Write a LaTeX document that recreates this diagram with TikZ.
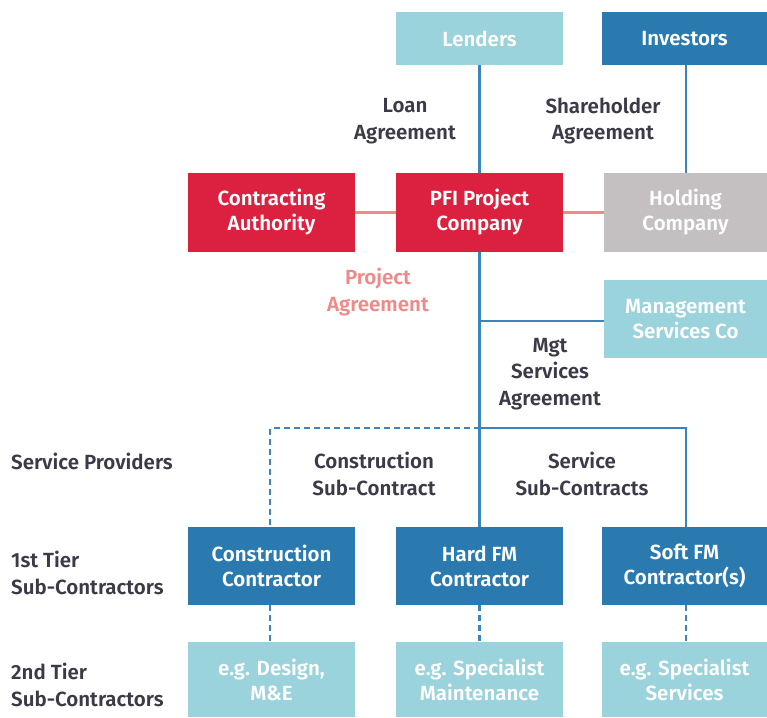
\documentclass[tikz,border=0pt]{standalone}
\usepackage{fontspec}
\setmainfont{Fira Sans}[UprightFont={* SemiBold}]
\definecolor{teal}{HTML}{9AD3DC}
\definecolor{navy}{HTML}{2A7AB0}
\definecolor{crimson}{HTML}{DC2040}
\definecolor{greybox}{HTML}{C4C0C2}
\definecolor{salmon}{HTML}{EE8A87}
\definecolor{ink}{HTML}{3B3B48}
\definecolor{wire}{HTML}{3A85BC}
\tikzset{
  box/.style={rectangle, inner sep=0pt, align=center, text=white,
    minimum width=167pt, minimum height=79pt,
    font=\fontsize{20.5}{25}\selectfont},
  lbl/.style={align=center, text=ink, inner sep=0pt,
    font=\fontsize{20.5}{26.5}\selectfont},
  side/.style={align=left, anchor=west, text=ink, inner sep=0pt,
    font=\fontsize{20.5}{26.5}\selectfont},
  link/.style={draw=wire, line width=2.2pt},
  sublink/.style={link, dash pattern=on 6pt off 4pt},
  pact/.style={draw=salmon, line width=2.2pt}
}
\begin{document}
\begin{tikzpicture}[x=1pt,y=-1pt]
\useasboundingbox (0,0) rectangle (767,717);

% funders
\node[box, fill=teal, minimum height=53pt] (lend) at (479.5,38.5) {Lenders};
\node[box, fill=navy, minimum width=165pt, minimum height=53pt] (inv) at (684.5,38.5) {Investors};

% project parties
\node[box, fill=crimson] (auth) at (271.5,212.5) {Contracting\\Authority};
\node[box, fill=crimson] (pfi) at (479.5,212.5) {PFI Project\\Company};
\node[box, fill=greybox, minimum width=163pt] (hold) at (685.5,212.5) {Holding\\Company};
\node[box, fill=teal, minimum width=163pt, minimum height=78pt] (mgt) at (685.5,319) {Management\\Services Co};

% first tier
\node[box, fill=navy, minimum height=78pt] (con) at (271.5,566) {Construction\\Contractor};
\node[box, fill=navy, minimum height=78pt] (hard) at (479.5,566) {Hard FM\\Contractor};
\node[box, fill=navy, minimum width=165pt, minimum height=78pt] (soft) at (684.5,566) {Soft FM\\Contractor(s)};

% second tier
\node[box, fill=teal, minimum height=75pt] (con2) at (271.5,679.5) {e.g. Design,\\M\&E};
\node[box, fill=teal, minimum height=75pt] (hard2) at (479.5,679.5) {e.g. Specialist\\Maintenance};
\node[box, fill=teal, minimum width=165pt, minimum height=75pt] (soft2) at (684.5,679.5) {e.g. Specialist\\Services};

% agreements
\draw[link] (lend) -- (pfi);
\draw[link] (inv.south -| 686,0) -- (hold.north -| 686,0);
\draw[pact] (auth) -- (pfi);
\draw[pact] (pfi) -- (hold);
\draw[link] (pfi) -- (hard);
\coordinate (mj) at (479.5,321);
\draw[link] (mj) -- (mj -| mgt.west);
\coordinate (bar) at (479.5,428);
\draw[link] (bar) -| (soft.north -| 686,0);
\draw[sublink] (bar) -| (con.north -| 270,0);
\draw[sublink] (con.south -| 270,0) -- (con2.north -| 270,0);
\draw[sublink] (hard) -- (hard2);
\draw[sublink] (soft.south -| 686,0) -- (soft2.north -| 686,0);

% labels
\node[lbl] (loan) at (405,121) {Loan\\Agreement};
\node[lbl] (share) at (603,121) {Shareholder\\Agreement};
\node[lbl, text=salmon] (proj) at (378,292) {Project\\Agreement};
\node[lbl] (msa) at (550,374) {Mgt\\Services\\Agreement};
\node[lbl] (csc) at (374,474) {Construction\\Sub-Contract};
\node[lbl] (ssc) at (582,474) {Service\\Sub-Contracts};
\node[side] (sp) at (11,461) {Service Providers};
\node[side] (t1) at (11,573) {1st Tier\\Sub-Contractors};
\node[side] (t2) at (11,685) {2nd Tier\\Sub-Contractors};
\end{tikzpicture}
\end{document}
